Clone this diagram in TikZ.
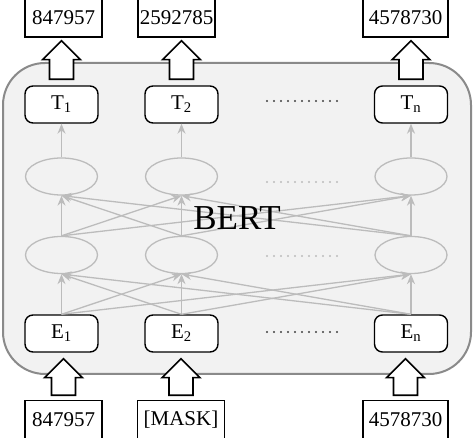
\documentclass[tikz,border=0pt]{standalone}
\usepackage{fontspec}
\setmainfont{Liberation Serif}
\usepackage{tikz}
\usetikzlibrary{arrows.meta,calc,shapes.geometric}
\definecolor{linkgray}{HTML}{BCBCBC}
\definecolor{framegray}{HTML}{8A8A8A}
\definecolor{bertbg}{HTML}{F2F2F2}
\tikzset{
  txt/.style={font=\fontsize{21}{25}\selectfont, inner sep=0pt},
  tokbox/.style={txt, draw, line width=1.4pt, fill=white, minimum height=38pt},
  layerbox/.style={txt, draw, line width=1.4pt, fill=white, rounded corners=8pt,
    minimum width=73pt, minimum height=37pt},
  hidden/.style={ellipse, draw=linkgray, line width=1.3pt, minimum width=72pt, minimum height=37pt},
  link/.style={draw=linkgray, line width=1.3pt, -{Stealth[length=10pt,width=8pt]}},
  fat/.style={draw, line width=1.6pt, fill=white},
  dotrow/.style={line width=2.4pt, line cap=round, dash pattern=on 0pt off 7pt}
}
\newcommand{\fatarrow}[2]{%
  \draw[fat] let \p1=(#1), \p2=(#2) in
    (\x1-12pt,\y1) -- (\x1-12pt,\y2-19pt) -- (\x1-19pt,\y2-19pt) -- (\x1,\y2)
    -- (\x1+19pt,\y2-19pt) -- (\x1+12pt,\y2-19pt) -- (\x1+12pt,\y1) -- cycle;}
\begin{document}
\begin{tikzpicture}[x=1pt,y=1pt]
  \useasboundingbox (0,0) rectangle (474,438);
  % BERT frame
  \draw[draw=framegray, fill=bertbg, line width=2pt, rounded corners=42pt] (3,64) rectangle (471,375);
  % columns
  \foreach \c/\x in {1/61.5,2/181.5,n/411} {
    \node[layerbox] (t\c) at (\x,333.5) {T\textsubscript{\c}};
    \node[hidden] (u\c) at (\x,261.5) {};
    \node[hidden] (l\c) at (\x,183) {};
    \node[layerbox] (e\c) at (\x,104.5) {E\textsubscript{\c}};
  }
  % outputs and inputs
  \node[tokbox, minimum width=77pt] (o1) at (63.5,420) {847957};
  \node[tokbox, minimum width=77pt] (o2) at (176.5,420) {2592785};
  \node[tokbox, minimum width=85pt] (on) at (405.5,420) {4578730};
  \node[tokbox, minimum width=77pt] (i1) at (63.5,18.5) {847957};
  \node[tokbox, minimum width=87pt] (i2) at (181,18.5) {[MASK]};
  \node[tokbox, minimum width=85pt] (in) at (405.5,18.5) {4578730};
  % connections
  \foreach \a in {1,2,n} {
    \foreach \b in {1,2,n} {
      \draw[link] (e\a.north) -- (l\b.south);
      \draw[link] (l\a.north) -- (u\b.south);
    }
    \draw[link] (u\a.north) -- (t\a.south);
  }
  \node[font=\fontsize{35}{40}\selectfont, inner sep=0pt] (bert) at (237,219.5) {BERT};
  % dots
  \draw[dotrow, draw=black!75] (267,337) -- (342,337);
  \draw[dotrow, draw=linkgray] (267,256) -- (342,256);
  \draw[dotrow, draw=linkgray] (267,182) -- (342,182);
  \draw[dotrow, draw=black!75] (267,106) -- (342,106);
  % fat arrows
  \foreach \c/\o in {1/o1,2/o2,n/on}
    \fatarrow{$(t\c.north)+(0,6)$}{$(\o.south)+(0,-3)$};
  \foreach \c/\i in {1/i1,2/i2,n/in}
    \fatarrow{$(\i.north)+(0,4.5)$}{$(e\c.south)+(0,-6)$};
\end{tikzpicture}
\end{document}
